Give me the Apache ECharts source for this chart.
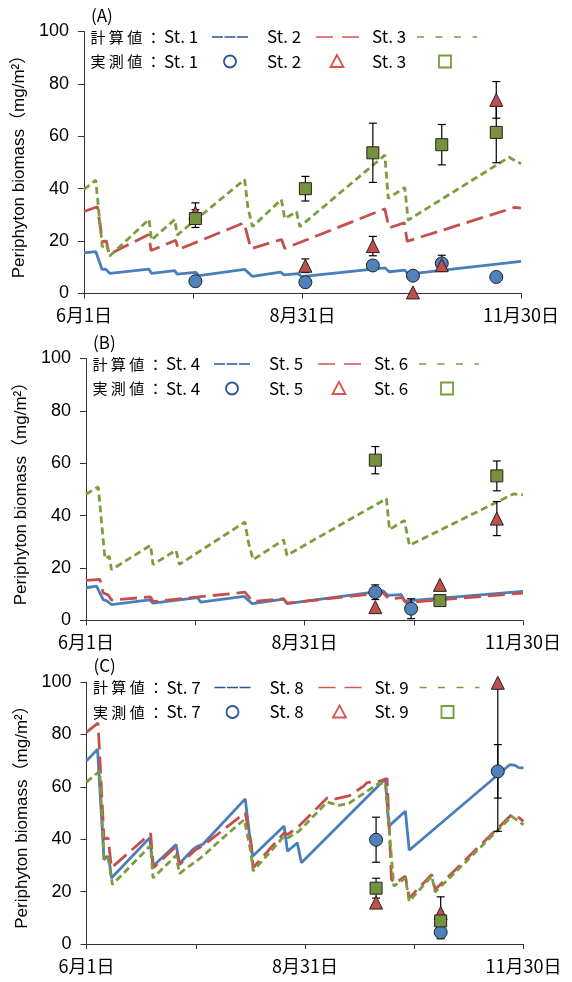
<!DOCTYPE html>
<html>
<head>
<meta charset="utf-8">
<script src="https://cdn.jsdelivr.net/npm/echarts@6/dist/echarts.min.js"></script>
<style>
  html, body { margin: 0; padding: 0; background: #fff; }
  #main { width: 572px; height: 982px; }
</style>
</head>
<body>
<div id="main"></div>
<script>
// 日数は6月1日からの経過日数
var xTickLabels = { 0: '6月1日', 91: '8月31日', 182: '11月30日' };
var panelLabels = ['(A)', '(B)', '(C)'];
var stationNames = [['St. 1', 'St. 2', 'St. 3'], ['St. 4', 'St. 5', 'St. 6'], ['St. 7', 'St. 8', 'St. 9']];

// 計算値 [日, 値]
var st1Sim = [[0,15.5],[4.9,16.0],[7.5,9.2],[9.0,9.3],[10.7,7.7],[27.1,9.3],[28.1,7.7],[37.8,8.7],[38.8,7.4],[46.5,8.1],[47.9,6.8],[66.9,9.2],[70.2,6.5],[81.8,8.2],[83.3,7.1],[89.2,7.6],[90.6,6.4],[125.3,9.8],[127.1,8.3],[133.6,8.9],[135.0,7.4],[182,12.3]];
var st2Sim = [[0,31.3],[5.6,33.1],[7.7,19.7],[9.3,20.1],[10.5,15.0],[27.0,22.5],[27.9,16.4],[38.2,20.3],[39.3,16.8],[66.7,27.0],[69.5,17.1],[82.3,20.6],[83.6,17.2],[125.3,32.3],[127.0,25.0],[133.4,27.0],[134.6,19.9],[179.5,32.9],[182,32.6]];
var st3Sim = [[0,39.7],[4.9,43.3],[7.6,17.8],[9.3,18.8],[10.7,14.3],[27.1,28.3],[28.1,20.4],[37.8,28.3],[38.8,22.3],[66.9,43.5],[68.3,32.5],[70.2,25.5],[82.2,35.9],[83.6,28.6],[88.5,31.2],[89.9,25.5],[125.3,52.8],[126.7,36.3],[133.6,40.5],[135.0,28.0],[177,52.0],[182,49.5]];
var st4Sim = [[0,12.5],[4.4,13.1],[7.2,7.9],[8.5,7.6],[10.6,6.1],[26.5,7.9],[27.9,6.6],[46.5,8.7],[47.8,7.0],[65.8,9.2],[69.2,6.4],[82.3,8.2],[83.7,6.4],[123.7,11.3],[125.7,9.6],[131.3,9.9],[132.6,7.4],[182,11.1]];
var st5Sim = [[0,15.3],[5.8,15.7],[7.2,10.5],[9.2,9.8],[10.6,7.8],[26.9,9.0],[27.9,7.2],[66.2,10.8],[69.4,7.3],[82.3,8.3],[83.7,6.6],[123.7,10.6],[126.1,8.3],[131.9,8.7],[133.3,6.8],[182,10.5]];
var st6Sim = [[0,48.2],[5.1,51.0],[7.9,23.6],[9.7,24.5],[10.6,19.4],[26.9,28.7],[27.9,21.4],[37.5,26.8],[38.9,21.4],[66.2,37.6],[67.6,30.0],[69.6,23.2],[82.3,30.8],[83.7,24.9],[125.1,46.5],[126.4,34.7],[132.6,38.2],[134.7,28.7],[178,48.3],[182,48.0]];
var st7Sim = [[0,69.9],[4.6,74.3],[7.3,32.2],[8.6,33.5],[9.4,32.5],[10.4,25.2],[26.3,40.5],[27.7,29.7],[37.3,38.0],[38.7,30.7],[44.3,36.1],[46.3,37.3],[48.4,38.0],[66.1,55.4],[67.8,42.4],[69.2,33.5],[82.3,45.0],[83.7,35.4],[87.8,38.6],[89.5,31.0],[124.5,63.1],[125.9,45.0],[132.8,50.7],[134.4,35.8],[176.4,68.5],[178.5,68.2],[180,67.3],[182,67.2]];
var st8Sim = [[0,80.9],[4.8,84.3],[7.3,40.0],[9.0,40.5],[10.4,29.1],[26.7,42.2],[27.9,29.1],[37.1,37.1],[38.7,30.3],[45.6,36.1],[48.5,37.5],[66.1,50.1],[68.5,38.6],[69.4,29.1],[82.3,42.4],[83.9,41.8],[88.5,45.0],[100.3,55.8],[103.6,55.4],[109.3,56.5],[115.5,60.3],[116.9,61.6],[121.8,62.1],[125.2,63.1],[127.0,24.6],[128.6,23.2],[132.8,25.9],[134.4,17.6],[143.8,26.5],[145.2,20.8],[177.1,49.4],[179.4,48.7],[182,46.8]];
var st9Sim = [[0,61.8],[5.5,66.0],[7.3,32.2],[9.0,32.9],[10.8,22.7],[26.7,37.6],[27.7,25.2],[37.3,33.8],[38.7,26.9],[48.4,33.5],[55.3,39.3],[65.7,47.5],[68.5,34.8],[69.4,27.8],[82.3,41.2],[83.9,40.5],[88.5,43.1],[100.3,54.2],[105.1,52.9],[109.3,53.7],[121.7,61.3],[124.5,61.3],[128.0,22.1],[132.8,25.2],[134.4,16.3],[143.8,25.9],[145.2,19.8],[177.1,48.7],[182,45.5]];

// 実測値 [日, 平均, 標準偏差]
var st1Obs = [[46.4,4.7,0],[92.2,4.3,0],[120.3,10.7,0],[137.0,6.8,0],[149.0,11.5,3.1],[171.7,6.3,0]];
var st2Obs = [[46.4,30.8,3.8],[92.2,10.6,2.6],[120.3,18.1,3.7],[137.0,0.4,0],[149.0,10.8,0],[171.7,73.9,7.0]];
var st3Obs = [[46.4,28.6,3.4],[92.2,40.0,4.7],[120.3,53.7,11.3],[149.0,56.8,7.7],[171.7,61.5,11.6]];
var st4Obs = [[120.5,10.8,2.8],[135.4,4.5,3.8]];
var st5Obs = [[120.5,5.1,0],[147.4,13.6,0],[171.1,38.9,6.5]];
var st6Obs = [[120.5,61.2,5.2],[147.4,7.6,0],[171.1,55.2,5.7]];
var st7Obs = [[120.6,39.8,8.6],[147.5,4.5,2.5],[171.3,65.9,10.2]];
var st8Obs = [[120.6,15.8,0],[147.5,11.8,6.2],[171.3,99.7,56.7]];
var st9Obs = [[120.6,21.3,3.8],[147.5,8.8,0]];

var simSets = [[st1Sim, st2Sim, st3Sim], [st4Sim, st5Sim, st6Sim], [st7Sim, st8Sim, st9Sim]];
var obsSets = [[st1Obs, st2Obs, st3Obs], [st4Obs, st5Obs, st6Obs], [st7Obs, st8Obs, st9Obs]];

var grids = [
  { left: 84, top: 31.5, width: 437, height: 262 },
  { left: 86, top: 358.5, width: 437, height: 262 },
  { left: 86.5, top: 682, width: 437, height: 262 }
];

var lineColors = ['#4A7EBB', '#C4504D', '#7D9C3B'];
var lineTypes = ['solid', [17, 7], [7, 4]];
var markFill = ['#4F81BD', '#C0504D', '#76923C'];
var markSymbols = ['circle', 'triangle', 'rect'];
var markSizes = [13, 13, 12];
var legendStroke = ['#2A5597', '#D9534F', '#7A9C3C'];

var jpFont = '"Noto Sans CJK JP", sans-serif';
var latFont = '"Liberation Sans", "Noto Sans CJK JP", sans-serif';

var myChart = echarts.init(document.getElementById('main'));

var xAxes = [], yAxes = [], series = [], graphics = [];

// 誤差棒
function errorBar(params, api) {
  var x = api.value(0), m = api.value(1), s = api.value(2);
  if (!s) return null;
  var lo = Math.max(0, m - s), hi = Math.min(100, m + s);
  var p1 = api.coord([x, lo]), p2 = api.coord([x, hi]);
  var st = { stroke: '#000', lineWidth: 1.2 };
  var kids = [{ type: 'line', shape: { x1: p1[0], y1: p1[1], x2: p2[0], y2: p2[1] }, style: st }];
  if (m - s >= 0) kids.push({ type: 'line', shape: { x1: p1[0] - 4, y1: p1[1], x2: p1[0] + 4, y2: p1[1] }, style: st });
  if (m + s <= 100) kids.push({ type: 'line', shape: { x1: p2[0] - 4, y1: p2[1], x2: p2[0] + 4, y2: p2[1] }, style: st });
  return { type: 'group', children: kids };
}

grids.forEach(function (g, i) {
  xAxes.push({
    type: 'value', gridIndex: i, min: 0, max: 182, interval: 45.5,
    axisLine: { lineStyle: { color: '#333', width: 1 } },
    axisTick: { show: true, length: 5, lineStyle: { color: '#333' } },
    splitLine: { show: false },
    axisLabel: {
      margin: 13, fontSize: 18, fontFamily: jpFont, color: '#000',
      showMinLabel: true, showMaxLabel: true,
      formatter: function (v) { return xTickLabels[v] || ''; }
    }
  });
  yAxes.push({
    type: 'value', gridIndex: i, min: 0, max: 100, interval: 20,
    name: 'Periphyton biomass（mg/m²）', nameLocation: 'middle', nameGap: 52,
    nameTextStyle: { fontSize: 17, fontFamily: latFont, color: '#000' },
    axisLine: { show: true, lineStyle: { color: '#333', width: 1 } },
    axisTick: { show: true, length: 6, lineStyle: { color: '#333' } },
    splitLine: { show: false },
    axisLabel: { margin: 15, fontSize: 18, fontFamily: latFont, color: '#000' }
  });

  for (var k = 0; k < 3; k++) {
    series.push({
      type: 'line', xAxisIndex: i, yAxisIndex: i, data: simSets[i][k],
      showSymbol: false, symbol: 'none', z: 2,
      lineStyle: { color: lineColors[k], width: 2.8, type: lineTypes[k] }
    });
  }
  for (var k2 = 0; k2 < 3; k2++) {
    series.push({
      type: 'custom', xAxisIndex: i, yAxisIndex: i, data: obsSets[i][k2],
      encode: { x: 0, y: 1 }, renderItem: errorBar, z: 3
    });
  }
  for (var k3 = 0; k3 < 3; k3++) {
    series.push({
      type: 'scatter', xAxisIndex: i, yAxisIndex: i, z: 4,
      data: obsSets[i][k3].map(function (d) { return [d[0], d[1]]; }),
      symbol: markSymbols[k3], symbolSize: markSizes[k3],
      itemStyle: { color: markFill[k3], borderColor: '#222', borderWidth: 1, opacity: 1 }
    });
  }

  // 凡例（テキスト + 記号）
  var L = g.left, T = g.top, y1 = T + 5.5, y2 = T + 30;
  function txt(x, y, s, size, fam) {
    return { type: 'text', x: x, y: y, z: 1,
      style: { text: s, fontSize: size, fontFamily: fam || jpFont, fill: '#000', verticalAlign: 'middle', textVerticalAlign: 'middle' } };
  }
  graphics.push(txt(L + 7, T - 16, panelLabels[i], 17));
  graphics.push(txt(L + 6.5, y1, '計 算 値', 15));
  graphics.push(txt(L + 6.5, y2, '実 測 値', 15));
  graphics.push(txt(L + 62, y1, '：', 15));
  graphics.push(txt(L + 62, y2, '：', 15));
  var stX = [L + 80, L + 183, L + 288];
  for (var s = 0; s < 3; s++) {
    graphics.push(txt(stX[s], y1, stationNames[i][s], 17));
    graphics.push(txt(stX[s], y2, stationNames[i][s], 17));
  }
  graphics.push({ type: 'line', z: 1, shape: { x1: L + 128, y1: y1, x2: L + 164, y2: y1 },
    style: { stroke: legendStroke[0], lineWidth: 1.6, lineDash: [11, 1.5] } });
  graphics.push({ type: 'line', z: 1, shape: { x1: L + 232, y1: y1, x2: L + 276, y2: y1 },
    style: { stroke: legendStroke[1], lineWidth: 1.6, lineDash: [17, 9] } });
  graphics.push({ type: 'line', z: 1, shape: { x1: L + 333, y1: y1, x2: L + 393, y2: y1 },
    style: { stroke: legendStroke[2], lineWidth: 1.6, lineDash: [7, 11.5] } });
  graphics.push({ type: 'circle', z: 1, shape: { cx: L + 146, cy: y2, r: 6 },
    style: { fill: 'none', stroke: legendStroke[0], lineWidth: 1.8 } });
  graphics.push({ type: 'polygon', z: 1, shape: { points: [[L + 253, y2 - 6.5], [L + 259.5, y2 + 5.5], [L + 246.5, y2 + 5.5]] },
    style: { fill: 'none', stroke: legendStroke[1], lineWidth: 1.8 } });
  graphics.push({ type: 'rect', z: 1, shape: { x: L + 355, y: y2 - 6, width: 12, height: 12 },
    style: { fill: 'none', stroke: legendStroke[2], lineWidth: 1.8 } });
});

var option = {
  backgroundColor: '#fff',
  animation: false,
  grid: grids,
  xAxis: xAxes,
  yAxis: yAxes,
  series: series,
  graphic: graphics
};

myChart.setOption(option);
</script>
</body>
</html>
